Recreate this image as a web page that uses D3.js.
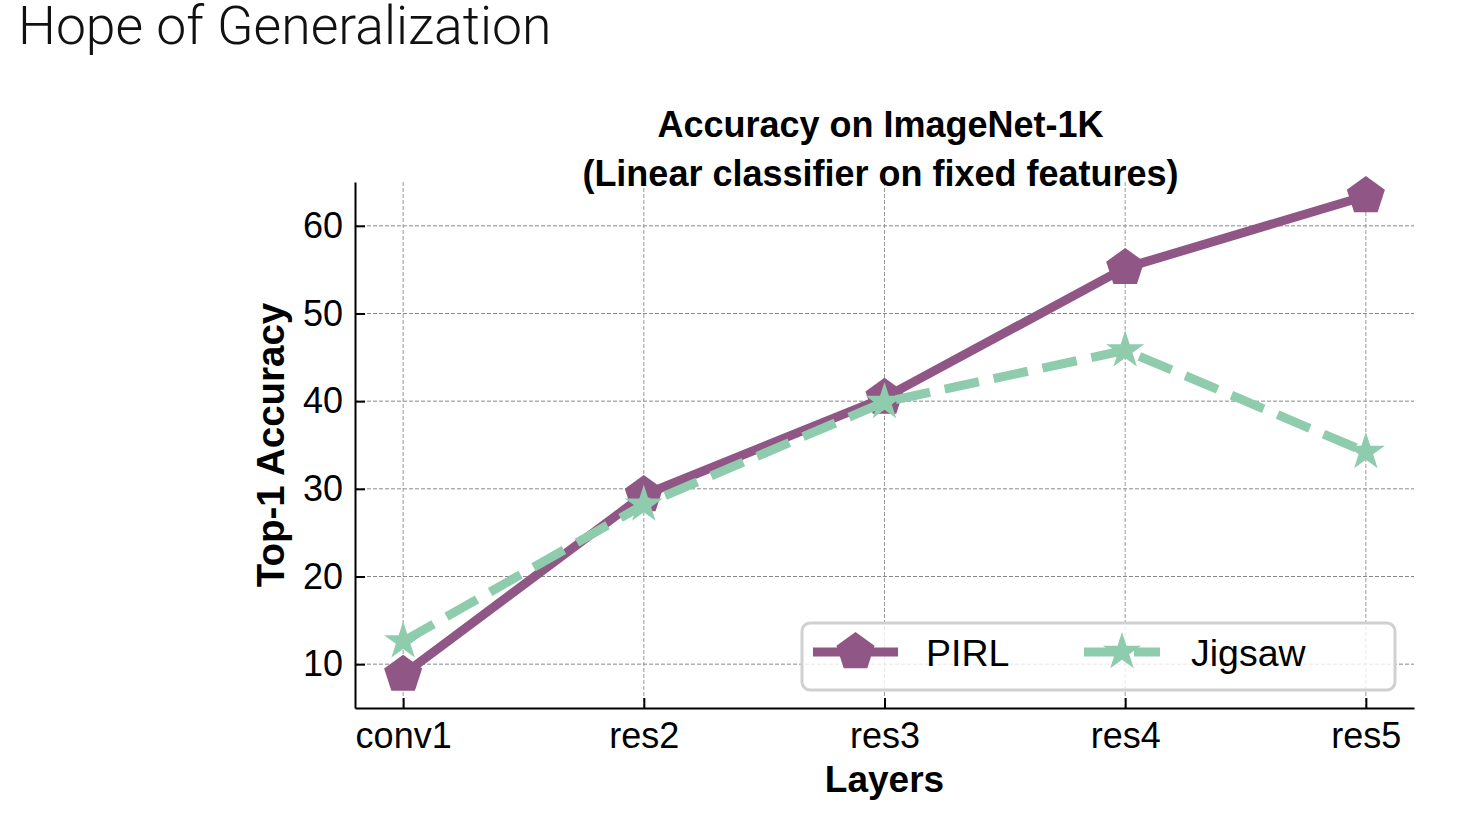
<!DOCTYPE html>
<html>
<head>
<meta charset="utf-8">
<script src="https://cdn.jsdelivr.net/npm/d3@7"></script>
<style>
  html, body { margin: 0; padding: 0; background: #fff; }
  svg { display: block; }
</style>
</head>
<body>
<svg id="chart" width="1480" height="836"></svg>
<script>
const pageTitle = "Hope of Generalization";
const chartTitle = ["Accuracy on ImageNet-1K", "(Linear classifier on fixed features)"];
const categories = ["conv1", "res2", "res3", "res4", "res5"];
const pirlValues = [8.8, 29.3, 40.4, 55.2, 63.4];
const jigsawValues = [12.6, 28.2, 39.9, 45.8, 34.2];
const yTicks = [10, 20, 30, 40, 50, 60];
const seriesNames = ["PIRL", "Jigsaw"];
const xLabel = "Layers";
const yLabel = "Top-1 Accuracy";

const purple = "#905685";
const green = "#8fcbad";
const font = "'Liberation Sans', Arial, Helvetica, sans-serif";

const svg = d3.select("#chart");

const pLeft = 355, pRight = 1414, pTop = 182, pBottom = 708;
const x = d3.scalePoint().domain(categories).range([pLeft, pRight]).padding(0.2);
const y = d3.scaleLinear().domain([5, 65]).range([pBottom, pTop]);

// page title
svg.append("text")
  .attr("x", 18).attr("y", 44)
  .attr("font-family", "Roboto, 'Open Sans', sans-serif")
  .attr("font-weight", 300)
  .attr("font-size", 53.5)
  .attr("fill", "#111")
  .text(pageTitle);

// grid
const grid = svg.append("g");
grid.selectAll("line.h").data(yTicks).enter().append("line")
  .attr("x1", pLeft).attr("x2", pRight)
  .attr("y1", d => y(d)).attr("y2", d => y(d))
  .attr("stroke", "#888").attr("stroke-width", 1).attr("stroke-dasharray", "4 2");
grid.selectAll("line.v").data(categories).enter().append("line")
  .attr("x1", d => x(d)).attr("x2", d => x(d))
  .attr("y1", pTop).attr("y2", pBottom)
  .attr("stroke", "#999").attr("stroke-width", 1).attr("stroke-dasharray", "4 2");

// axes
const yAxis = svg.append("g").attr("transform", `translate(${pLeft},0)`)
  .call(d3.axisLeft(y).tickValues(yTicks).tickSize(-10).tickSizeOuter(0).tickPadding(12));
const xAxis = svg.append("g").attr("transform", `translate(0,${pBottom})`)
  .call(d3.axisBottom(x).tickSize(-10).tickSizeOuter(0).tickPadding(14));
[yAxis, xAxis].forEach(a => {
  a.select(".domain").attr("stroke", "#000").attr("stroke-width", 2);
  a.selectAll(".tick line").attr("stroke", "#000").attr("stroke-width", 2);
  a.selectAll(".tick text").attr("font-family", font).attr("font-size", 36).attr("fill", "#000");
});

// markers
function pentagonPath(r) {
  const pts = d3.range(5).map(i => {
    const a = -Math.PI / 2 + i * 2 * Math.PI / 5;
    return [r * Math.cos(a), r * Math.sin(a)];
  });
  return "M" + pts.map(p => p.join(",")).join("L") + "Z";
}
function starPath(r) {
  const ri = r * 0.381966;
  const pts = d3.range(10).map(i => {
    const a = -Math.PI / 2 + i * Math.PI / 5;
    const rr = i % 2 === 0 ? r : ri;
    return [rr * Math.cos(a), rr * Math.sin(a)];
  });
  return "M" + pts.map(p => p.join(",")).join("L") + "Z";
}

const line = d3.line().x(d => x(d.c)).y(d => y(d.v));
const pirl = categories.map((c, i) => ({ c, v: pirlValues[i] }));
const jig = categories.map((c, i) => ({ c, v: jigsawValues[i] }));

svg.append("path").datum(pirl).attr("d", line)
  .attr("fill", "none").attr("stroke", purple).attr("stroke-width", 9)
  .attr("stroke-linejoin", "round");
svg.selectAll("path.pm").data(pirl).enter().append("path")
  .attr("d", pentagonPath(20))
  .attr("transform", d => `translate(${x(d.c)},${y(d.v)})`)
  .attr("fill", purple);

svg.append("path").datum(jig).attr("d", line)
  .attr("fill", "none").attr("stroke", green).attr("stroke-width", 9)
  .attr("stroke-dasharray", "35 15");
svg.selectAll("path.jm").data(jig).enter().append("path")
  .attr("d", starPath(20))
  .attr("transform", d => `translate(${x(d.c)},${y(d.v)})`)
  .attr("fill", green);

// chart title
svg.selectAll("text.title").data(chartTitle).enter().append("text")
  .attr("x", (pLeft + pRight) / 2 - 4).attr("y", (d, i) => 137 + i * 49)
  .attr("text-anchor", "middle")
  .attr("font-family", font).attr("font-weight", "bold").attr("font-size", 36)
  .attr("fill", "#000")
  .text(d => d);

// axis labels
svg.append("text")
  .attr("x", (pLeft + pRight) / 2).attr("y", 792)
  .attr("text-anchor", "middle")
  .attr("font-family", font).attr("font-weight", "bold").attr("font-size", 37)
  .text(xLabel);
svg.append("text")
  .attr("transform", `translate(284,${(pTop + pBottom) / 2}) rotate(-90)`)
  .attr("text-anchor", "middle")
  .attr("font-family", font).attr("font-weight", "bold").attr("font-size", 38.5)
  .text(yLabel);

// legend
const lg = svg.append("g");
lg.append("rect")
  .attr("x", 802).attr("y", 623).attr("width", 593).attr("height", 67)
  .attr("rx", 8).attr("ry", 8)
  .attr("fill", "#fff").attr("fill-opacity", 0.8)
  .attr("stroke", "#d0d0d0").attr("stroke-width", 3);
const legendItems = [
  { name: seriesNames[0], color: purple, x0: 813, x1: 898, tx: 926, marker: pentagonPath(20), dash: null },
  { name: seriesNames[1], color: green, x0: 1084, x1: 1160, tx: 1191, marker: starPath(20), dash: "35 15" }
];
legendItems.forEach(it => {
  const ln = lg.append("line")
    .attr("x1", it.x0).attr("x2", it.x1).attr("y1", 652).attr("y2", 652)
    .attr("stroke", it.color).attr("stroke-width", 9);
  if (it.dash) ln.attr("stroke-dasharray", it.dash);
  lg.append("path").attr("d", it.marker)
    .attr("transform", `translate(${(it.x0 + it.x1) / 2},652)`)
    .attr("fill", it.color);
  lg.append("text").attr("x", it.tx).attr("y", 666)
    .attr("font-family", font).attr("font-size", 37.5).attr("fill", "#000")
    .text(it.name);
});
</script>
</body>
</html>
